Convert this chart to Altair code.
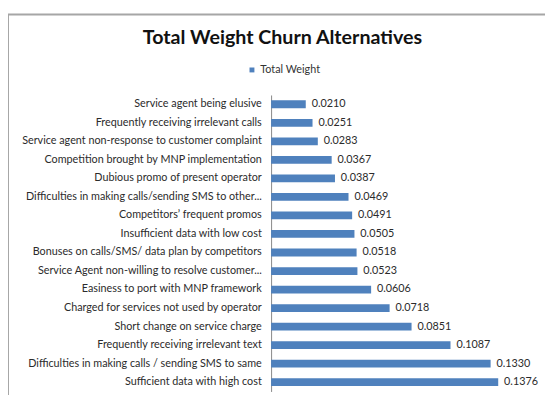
import altair as alt
import pandas as pd

categories = [
    "Service agent being elusive",
    "Frequently receiving irrelevant calls",
    "Service agent non-response to customer complaint",
    "Competition brought  by MNP implementation",
    "Dubious promo of present operator",
    "Difficulties in making calls/sending SMS to other...",
    "Competitors\u2019 frequent  promos",
    "Insufficient data with low cost",
    "Bonuses on calls/SMS/ data plan by competitors",
    "Service Agent non-willing to resolve customer...",
    "Easiness to port with MNP framework",
    "Charged  for services not used by operator",
    "Short change on service charge",
    "Frequently receiving irrelevant text",
    "Difficulties in making calls / sending SMS  to same",
    "Sufficient data with high cost",
]
values = [0.0210, 0.0251, 0.0283, 0.0367, 0.0387, 0.0469, 0.0491, 0.0505,
          0.0518, 0.0523, 0.0606, 0.0718, 0.0851, 0.1087, 0.1330, 0.1376]
series = ["Total Weight"] * len(categories)

df = pd.DataFrame({"category": categories, "value": values, "series": series})

FONT = "Lato"
BLUE = "#4F81BD"

y_enc = alt.Y("category:N", sort=categories, title=None,
              scale=alt.Scale(paddingInner=0.58, paddingOuter=0.29),
              axis=alt.Axis(domainColor="#888888", domainWidth=1, ticks=False,
                            labelPadding=10, labelLimit=400, labelFontSize=11,
                            labelFont=FONT, labelColor="#2b2b2b"))
x_enc = alt.X("value:Q", title=None, scale=alt.Scale(domain=[0, 0.16]), axis=None)

bars = alt.Chart(df).mark_bar(color=BLUE).encode(
    x=x_enc, y=y_enc,
    color=alt.Color("series:N", title=None,
                    scale=alt.Scale(range=[BLUE]),
                    legend=alt.Legend(orient="none", legendX=-25, legendY=-31,
                                      symbolType="square", symbolSize=25,
                                      labelOffset=3,
                                      labelFont=FONT, labelFontSize=11,
                                      labelColor="#333333", padding=0)),
)

labels = alt.Chart(df).mark_text(align="left", baseline="middle", dx=6,
                                 font=FONT, fontSize=11, color="#2b2b2b").encode(
    x=x_enc, y=y_enc, text=alt.Text("value:Q", format=".4f"))

frame_df = pd.DataFrame({"k": [0]})
top_line = alt.Chart(frame_df).mark_rule(color="#A6A6A6", strokeWidth=2).encode(
    x=alt.value(-268), x2=alt.value(290), y=alt.value(-82))
left_line = alt.Chart(frame_df).mark_rule(color="#A6A6A6", strokeWidth=2).encode(
    x=alt.value(-268), y=alt.value(-82), y2=alt.value(320))

chart = alt.layer(bars, labels, top_line, left_line).properties(
    width=269, height=302,
    autosize=alt.AutoSizeParams(type="none"),
    padding={"left": 268, "top": 85, "right": 10, "bottom": 0},
    title=alt.TitleParams("Total Weight Churn Alternatives", font=FONT,
                          fontSize=20, fontWeight="bold", color="#111111",
                          anchor="middle", frame="group", dx=-123, dy=35,
                          offset=0),
).configure_view(stroke=None)

chart.save("out.html", embed_options={"renderer": "svg", "actions": False})
